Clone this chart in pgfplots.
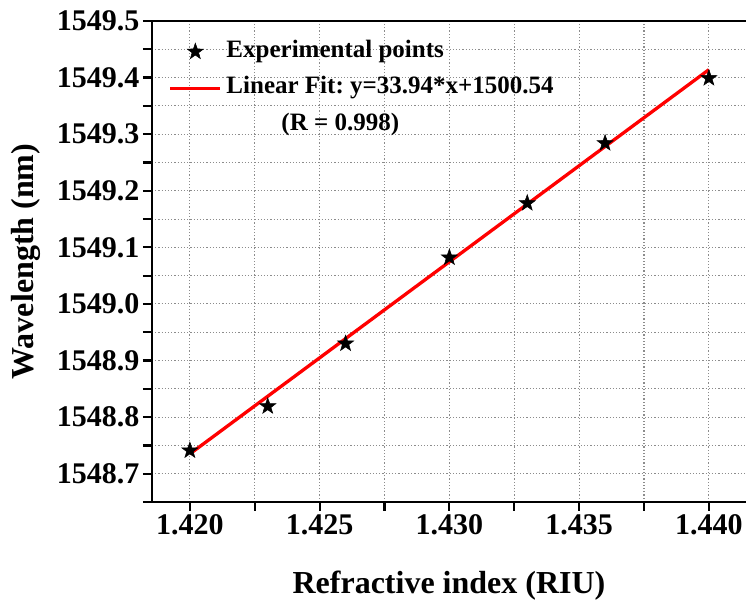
\documentclass[border=0pt]{standalone}
\usepackage{fontspec}
\setmainfont{Liberation Serif}
\usepackage{pgfplots}
\pgfplotsset{compat=1.18}
\usetikzlibrary{calc}

% filled five-point star
\pgfdeclareplotmark{fstar}{%
  \pgfpathmoveto{\pgfpointpolar{90}{\pgfplotmarksize}}%
  \pgfpathlineto{\pgfpointpolar{126}{0.4\pgfplotmarksize}}%
  \pgfpathlineto{\pgfpointpolar{162}{\pgfplotmarksize}}%
  \pgfpathlineto{\pgfpointpolar{198}{0.4\pgfplotmarksize}}%
  \pgfpathlineto{\pgfpointpolar{234}{\pgfplotmarksize}}%
  \pgfpathlineto{\pgfpointpolar{270}{0.4\pgfplotmarksize}}%
  \pgfpathlineto{\pgfpointpolar{306}{\pgfplotmarksize}}%
  \pgfpathlineto{\pgfpointpolar{342}{0.4\pgfplotmarksize}}%
  \pgfpathlineto{\pgfpointpolar{18}{\pgfplotmarksize}}%
  \pgfpathlineto{\pgfpointpolar{54}{0.4\pgfplotmarksize}}%
  \pgfpathclose
  \pgfusepathqfillstroke
}

\begin{document}
\frenchspacing
\begin{tikzpicture}
\begin{axis}[
  scale only axis,
  width=594bp, height=481bp,
  xmin=1.41854, xmax=1.44143,
  ymin=1548.65, ymax=1549.5,
  axis line style={draw=none},
  xtick pos=bottom, ytick pos=left,
  xtick={1.420,1.425,1.430,1.435,1.440},
  ytick={1548.7,1548.8,1548.9,1549.0,1549.1,1549.2,1549.3,1549.4,1549.5},
  minor xtick={1.4175,1.4225,1.4275,1.4325,1.4375,1.4425},
  minor ytick={1548.65,1548.75,1548.85,1548.95,1549.05,1549.15,1549.25,1549.35,1549.45},
  tick align=outside,
  major tick length=9bp, minor tick length=9bp,
  tick style={line width=2.2bp, black},
  xmajorgrids, ymajorgrids, xminorgrids, yminorgrids,
  major grid style={draw=black!45, line width=1.1bp, dash pattern=on 1.3bp off 1.9bp},
  minor grid style={draw=black!45, line width=1.1bp, dash pattern=on 1.3bp off 1.9bp},
  scaled ticks=false,
  /pgf/number format/.cd, fixed, fixed zerofill, 1000 sep={}, assume math mode=true,
  /pgfplots/.cd,
  xticklabel style={font=\fontsize{30bp}{35bp}\selectfont\bfseries, /pgf/number format/precision=3},
  yticklabel style={font=\fontsize{30bp}{35bp}\selectfont\bfseries, /pgf/number format/precision=1},
  every axis x label/.style={at={(rel axis cs:0.5,0)}, anchor=base, yshift=-91bp},
  every axis y label/.style={at={(rel axis cs:0,0.5)}, anchor=base, xshift=-118bp, rotate=90},
  label style={font=\fontsize{32bp}{38bp}\selectfont\bfseries},
  xlabel={Refractive index (RIU)},
  ylabel={Wavelength (nm)},
  legend style={at={(rel axis cs:0,1)}, anchor=north west, xshift=16.5bp, yshift=-19bp,
    draw=none, fill=none, inner sep=0pt, row sep=13.5bp,
    font=\fontsize{25bp}{30bp}\selectfont\bfseries,
    nodes={inner xsep=4.5bp, inner ysep=0pt, text height=17bp, text depth=6bp}},
  legend cell align=left,
  legend image code/.code={%
    \draw[mark repeat=2, mark phase=2, #1] plot coordinates {(0bp,0bp) (25bp,0bp) (50bp,0bp)};},
]
\coordinate (sw) at (rel axis cs:0,0);
\coordinate (se) at (rel axis cs:1,0);
\coordinate (nw) at (rel axis cs:0,1);
\coordinate (ne) at (rel axis cs:1,1);

% experimental points
\addplot[only marks, mark=fstar, mark size=8.5bp, mark options={fill=black, draw=black, line width=0.5bp}]
  coordinates {
  (1.420,1548.741) (1.423,1548.819) (1.426,1548.930) (1.430,1549.082)
  (1.433,1549.178) (1.436,1549.284) (1.440,1549.399)
};
\addlegendentry{Experimental points}

% linear fit y = 33.94 x + 1500.54
\addplot[red, line width=3.3bp] coordinates {(1.420,1548.735) (1.440,1549.414)};
\addlegendentry{Linear Fit: y=33.94*x+1500.54}

\addlegendimage{empty legend}
\addlegendentry{\hspace*{55bp}(R = 0.998)}
\end{axis}
% spines: left, top, bottom (no right spine)
\draw[line width=2.5bp, line join=miter] (ne) -- (nw) -- (sw) -- (se);
\pgfresetboundingbox
\path ($(sw)+(-152bp,-98bp)$) rectangle ($(ne)+(0bp,21bp)$);
\end{tikzpicture}
\end{document}
